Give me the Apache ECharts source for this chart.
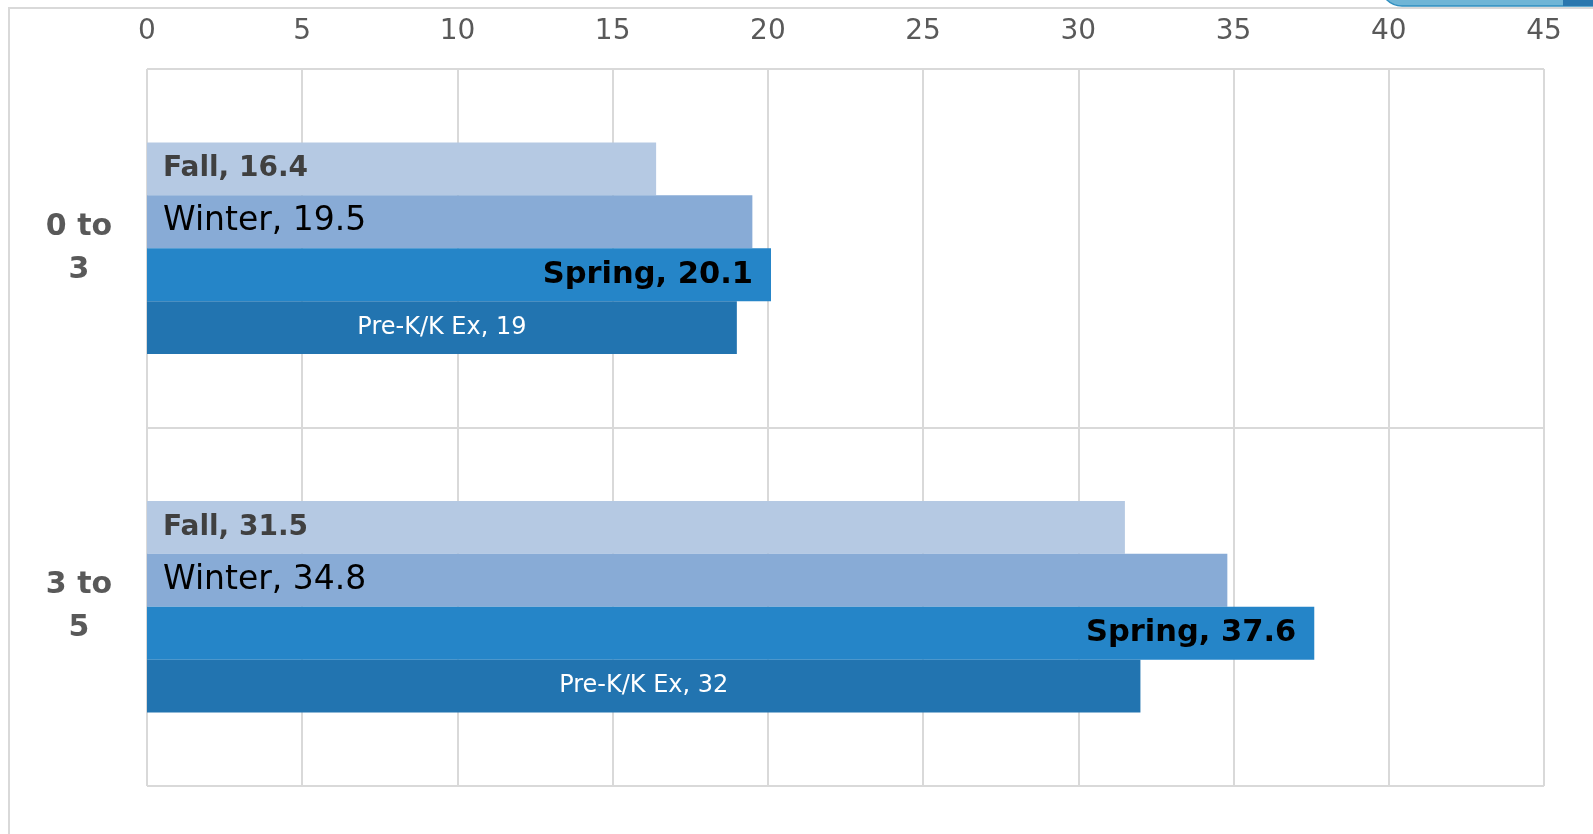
<html lang="en">
<head>
<meta charset="UTF-8">
<title>Bar chart</title>
<script src="https://cdn.jsdelivr.net/npm/echarts@6/dist/echarts.min.js"></script>
<style>
html,body{margin:0;padding:0;background:#fff;}
</style>
</head>
<body>
<div id="main" style="width:1593px;height:834px;"></div>
<script type="text/javascript">
var categories = ['0 to\n3', '3 to\n5'];
var fall = [16.4, 31.5];
var winter = [19.5, 34.8];
var spring = [20.1, 37.6];
var prek = [19, 32];

var chart = echarts.init(document.getElementById('main'));
var font = 'DejaVu Sans';
var option = {
    animation: false,
    backgroundColor: '#fff',
    grid: { left: 147, right: 49, top: 69, bottom: 48 },
    graphic: [
        { type: 'rect', shape: { x: 9, y: 8, width: 1600, height: 900 },
          style: { fill: 'none', stroke: '#d9d9d9', lineWidth: 2 } },
        { type: 'rect', shape: { x: 1380, y: -20, width: 260, height: 26, r: [0, 0, 0, 22] },
          style: { fill: '#6fb5d6', stroke: '#2f8fc0', lineWidth: 1.5 } },
        { type: 'rect', shape: { x: 1563, y: -20, width: 40, height: 26 },
          style: { fill: '#2a77ae' } }
    ],
    xAxis: {
        type: 'value', position: 'top', min: 0, max: 45, interval: 5,
        axisLine: { show: false }, axisTick: { show: false },
        axisLabel: { color: '#595959', fontSize: 28, fontFamily: font, margin: 23 },
        splitLine: { lineStyle: { color: '#d9d9d9', width: 2 } }
    },
    yAxis: {
        type: 'category', inverse: true, data: categories,
        axisLine: { show: false }, axisTick: { show: false },
        axisLabel: { color: '#595959', fontSize: 30, fontWeight: 'bold', fontFamily: font,
                     align: 'center', margin: 68, lineHeight: 43 },
        splitLine: { show: true, lineStyle: { color: '#d9d9d9', width: 2 } }
    },
    series: [
        { name: 'Fall', type: 'bar', data: fall, barGap: '0%', barCategoryGap: '41%',
          itemStyle: { color: '#b5c9e3' },
          label: { show: true, position: 'insideLeft', distance: 16, formatter: '{a}, {c}',
                   color: '#404040', fontSize: 28, fontWeight: 'bold', fontFamily: font } },
        { name: 'Winter', type: 'bar', data: winter,
          itemStyle: { color: '#88abd6' },
          label: { show: true, position: 'insideLeft', distance: 16, formatter: '{a}, {c}',
                   color: '#000', fontSize: 33, fontFamily: font } },
        { name: 'Spring', type: 'bar', data: spring,
          itemStyle: { color: '#2585c8' },
          label: { show: true, position: 'insideRight', distance: 18, formatter: '{a}, {c}',
                   color: '#000', fontSize: 30.5, fontWeight: 'bold', fontFamily: font } },
        { name: 'Pre-K/K Ex', type: 'bar', data: prek,
          itemStyle: { color: '#2274b0' },
          label: { show: true, position: 'inside', formatter: '{a}, {c}',
                   color: '#fff', fontSize: 24, fontFamily: font } }
    ]
};
chart.setOption(option);
</script>
</body>
</html>
